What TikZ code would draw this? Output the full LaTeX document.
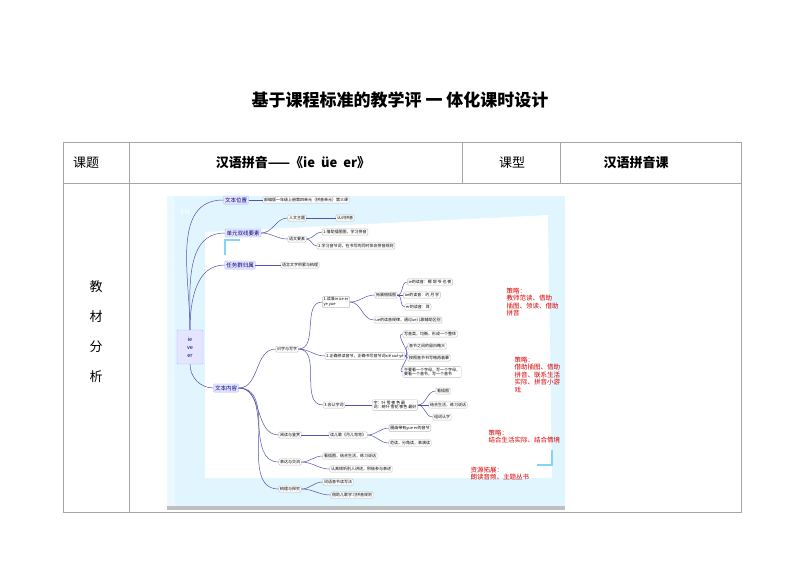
\documentclass[tikz,border=0pt]{standalone}
\usepackage{fontspec}
\setmainfont{Noto Sans CJK SC}
\begin{document}
\begin{tikzpicture}[x=1pt,y=-1pt,
  mm/.style={draw=gray!50,fill=white,rounded corners=1pt,inner sep=1.2pt,font=\fontsize{4}{4.5}\selectfont,align=left},
  mb/.style={draw=blue!30,fill=blue!10,rounded corners=1pt,inner sep=1.5pt,font=\fontsize{5.5}{6}\selectfont,text=blue!50!black},
  ln/.style={draw=blue!35!gray,line width=0.5pt},
  red/.style={text=red!85!black,font=\fontsize{6.5}{7.5}\selectfont,align=left},
  cell/.style={font=\fontsize{13}{15}\selectfont}]
\useasboundingbox (0,0) rectangle (800,566);
\fill[white] (0,0) rectangle (800,566);
\node[font=\bfseries\fontsize{17}{20}\selectfont] (title) at (400,100) {基于课程标准的教学评\ 一\ 体化课时设计};
% table
\draw[gray!70,line width=0.6pt] (63,142) rectangle (741,512);
\draw[gray!70,line width=0.6pt] (63,183) -- (741,183);
\draw[gray!70,line width=0.6pt] (129,142) -- (129,512);
\draw[gray!70,line width=0.6pt] (462,142) -- (462,183) (560,142) -- (560,183);
\node[cell] (k1) at (86,163) {课题};
\node[cell,font=\bfseries\fontsize{13}{15}\selectfont] (k2) at (293,163) {汉语拼音——《ie\ \ üe\ \ er》};
\node[cell] (k3) at (512,163) {课型};
\node[cell,font=\bfseries\fontsize{13}{15}\selectfont] (k4) at (636,163) {汉语拼音课};
\node[cell,align=center,font=\fontsize{13}{30}\selectfont] (k5) at (96,332) {教\\材\\分\\析};
% image background
\fill[cyan!12] (167,196) rectangle (565,510);
\fill[white!92!cyan] (167,196) rectangle (175,508);
\fill[white] (205,232) -- (548,215) -- (552,478) -- (205,478) -- cycle;
\fill[gray!50] (167,506) rectangle (565,510);
\draw[cyan!50,line width=2pt] (225,255) -- (225,240) -- (240,240);
\draw[cyan!50,line width=2pt] (552,450) -- (552,465) -- (537,465);
\node[text=white,font=\fontsize{7}{8}\selectfont] (en) at (185,212) {EN};
% root and main branches
\node[mb,align=center,font=\fontsize{5.5}{8}\selectfont,minimum height=34pt,minimum width=26pt] (root) at (190,347) {ie\\ve\\er};
\node[mb] (a1) at (236,200) {文本位置};
\node[mb] (a2) at (243,233) {单元双线要素};
\node[mb] (a3) at (240,265) {任务群归属};
\node[mb] (a4) at (226,388) {文本内容};
\draw[ln] (root.north) to[out=90,in=180] (a1.west);
\draw[ln] (root.north) to[out=90,in=180] (a2.west);
\draw[ln] (root.north) to[out=90,in=180] (a3.west);
\draw[ln] (root.south) to[out=-90,in=180] (a4.west);
\node[mm] (a1a) at (306,200) {部编版一年级上册第四单元（拼音单元）第三课};
\node[mm] (a2a) at (297,218) {人文主题};
\node[mm] (a2b) at (297,239) {语文要素};
\node[mm] (a2c) at (345,218) {认识拼音};
\node[mm] (a2d) at (345,232) {1.借助插图图，学习拼音};
\node[mm] (a2e) at (356,246) {2.学习音节词，在书写的同时体会拼音规则};
\node[mm] (a3a) at (300,265) {语言文字积累与梳理};
\draw[ln] (a1.east) -- (a1a.west);
\draw[ln] (a2.east) to[out=0,in=180] (a2a.west);
\draw[ln] (a2.east) to[out=0,in=180] (a2b.west);
\draw[ln] (a2a.east) -- (a2c.west);
\draw[ln] (a2b.east) to[out=0,in=180] (a2d.west);
\draw[ln] (a2b.east) to[out=0,in=180] (a2e.west);
\draw[ln] (a3.east) -- (a3a.west);
% 文本内容
\node[mm] (b1) at (287,349) {识字与写字};
\node[mm] (b2) at (290,435) {阅读与鉴赏};
\node[mm] (b3) at (290,462) {表达与交流};
\node[mm] (b4) at (290,489) {梳理与探究};
\foreach \n in {b1,b2,b3,b4} \draw[ln] (a4.east) to[out=0,in=180] (\n.west);
\node[mm] (c1) at (336,302) {1.读准ie üe er\\ye yue};
\node[mm] (c2) at (365,356) {2.正确拼读音节，正确书写音节词xiě xué yè};
\node[mm] (c3) at (334,405) {3.会认字词};
\foreach \n in {c1,c2,c3} \draw[ln] (b1.east) to[out=0,in=180] (\n.west);
\node[mm] (d1) at (386,295) {拓展借插图};
\node[mm] (d2) at (408,320) {ue的读音规律，通过ue儿歌辅助区别};
\draw[ln] (c1.east) to[out=0,in=180] (d1.west);
\draw[ln] (c1.east) to[out=0,in=180] (d2.west);
\node[mm] (e1) at (430,282) {ie的读音：椰 耶 爷 也 夜};
\node[mm] (e2) at (422,295) {üe的读音：约 月 学};
\node[mm] (e3) at (418,307) {er的读音：耳};
\foreach \n in {e1,e2,e3} \draw[ln] (d1.east) to[out=0,in=180] (\n.west);
\node[mm] (f1) at (430,334) {写音类，均衡，形成一个整体};
\node[mm] (f2) at (427,346) {音节之间的留白略大};
\node[mm] (f3) at (429,358) {按照音节书写格再临摹};
\node[mm] (f4) at (432,372) {不要看一个字母，写一个字母，\\要看一个音节，写一个音节};
\foreach \n in {f1,f2,f3,f4} \draw[ln] (c2.east) to[out=0,in=180] (\n.west);
\node[mm] (g1) at (395,405) {字：叶 雪 夜 色 最\\词：树叶 雪花 夜色 最好};
\draw[ln] (c3.east) -- (g1.west);
\node[mm] (h1) at (443,391) {看插图};
\node[mm] (h2) at (448,405) {结合生活，练习说话};
\node[mm] (h3) at (442,417) {组词认字};
\foreach \n in {h1,h2,h3} \draw[ln] (g1.east) to[out=0,in=180] (\n.west);
\node[mm] (i1) at (348,435) {读儿歌《月儿弯弯》};
\draw[ln] (b2.east) -- (i1.west);
\node[mm] (i2) at (410,428) {圈画带有yue er的音节};
\node[mm] (i3) at (410,443) {范读，分角读，表演读};
\draw[ln] (i1.east) to[out=0,in=180] (i2.west);
\draw[ln] (i1.east) to[out=0,in=180] (i3.west);
\node[mm] (j1) at (350,456) {看插图，结合生活，练习说话};
\node[mm] (j2) at (361,469) {认真倾听别人讲述，积极参与表述};
\draw[ln] (b3.east) to[out=0,in=180] (j1.west);
\draw[ln] (b3.east) to[out=0,in=180] (j2.west);
\node[mm] (l1) at (338,482) {词语音节读写法};
\node[mm] (l2) at (352,495) {借助儿歌学习拼音规则};
\draw[ln] (b4.east) to[out=0,in=180] (l1.west);
\draw[ln] (b4.east) to[out=0,in=180] (l2.west);
% red notes
\node[red,anchor=north west] (r1) at (503,284) {策略：\\教师范读、借助\\插图、领读、借助\\拼音};
\node[red,anchor=north west] (r2) at (511,353) {策略：\\借助插图、借助\\拼音、联系生活\\实际、拼音小游\\戏};
\node[red,anchor=north west] (r3) at (485,426) {策略：\\结合生活实际、结合情境};
\node[red,anchor=north west] (r4) at (467,463) {资源拓展：\\朗读音频、主题丛书};
\end{tikzpicture}
\end{document}
